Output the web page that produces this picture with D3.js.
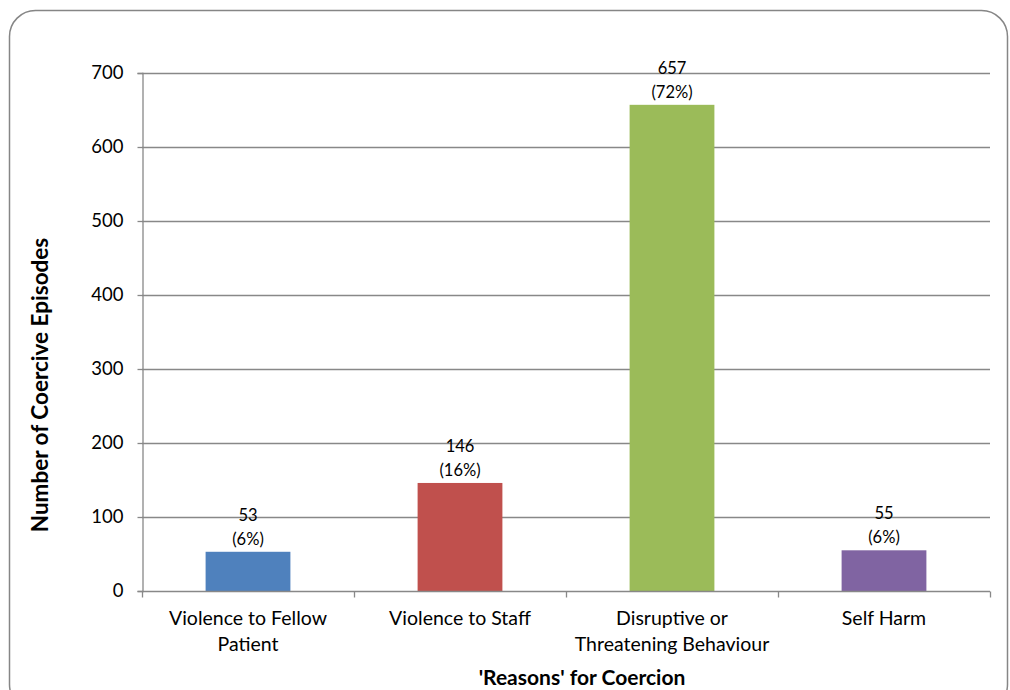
<!DOCTYPE html>
<html>
<head>
<meta charset="utf-8">
<script src="https://cdn.jsdelivr.net/npm/d3@7"></script>
<style>
  html, body { margin: 0; padding: 0; background: #fff; }
  svg { display: block; }
  text { font-family: Lato, "Open Sans", sans-serif; fill: #000; }
</style>
</head>
<body>
<svg id="chart" width="1010" height="690"></svg>
<script>
const categories = [
  ["Violence to Fellow", "Patient"],
  ["Violence to Staff"],
  ["Disruptive or", "Threatening Behaviour"],
  ["Self Harm"]
];
const values = [53, 146, 657, 55];
const percents = ["(6%)", "(16%)", "(72%)", "(6%)"];
const colors = ["#4F81BD", "#C0504D", "#9BBB59", "#8064A2"];
const yTicks = [0, 100, 200, 300, 400, 500, 600, 700];
const yTitle = "Number of Coercive Episodes";
const xTitle = "'Reasons' for Coercion";

const svg = d3.select("#chart");

// outer rounded frame
svg.append("rect")
  .attr("x", 9.5).attr("y", 10.5)
  .attr("width", 998).attr("height", 700)
  .attr("rx", 26).attr("ry", 26)
  .attr("fill", "#fff")
  .attr("stroke", "#868686").attr("stroke-width", 1.5);

const pLeft = 142, pRight = 990, pTop = 73, pBottom = 591;

const x = d3.scaleBand()
  .domain(d3.range(categories.length))
  .range([pLeft, pRight])
  .paddingInner(0.6).paddingOuter(0.3);

const xOuter = d3.scaleBand()
  .domain(d3.range(categories.length))
  .range([pLeft, pRight]);

const y = d3.scaleLinear().domain([0, 700]).range([pBottom, pTop]);

// gridlines
svg.append("g").selectAll("line")
  .data(yTicks.filter(t => t > 0))
  .join("line")
  .attr("x1", pLeft).attr("x2", pRight)
  .attr("y1", d => y(d) + 0.5).attr("y2", d => y(d) + 0.5)
  .attr("stroke", "#888").attr("stroke-width", 1.3);

// y axis
const yAxis = svg.append("g")
  .attr("transform", `translate(${pLeft + 0.5},0)`)
  .call(d3.axisLeft(y).tickValues(yTicks).tickSize(5).tickPadding(14).tickFormat(d3.format("d")));
yAxis.select(".domain").attr("stroke", "#888").attr("stroke-width", 1.3);
yAxis.selectAll(".tick line").attr("stroke", "#888").attr("stroke-width", 1.3);
yAxis.selectAll(".tick text").attr("font-size", 18.5).attr("font-family", "Lato").attr("fill", "#000");

// bars
svg.append("g").selectAll("rect")
  .data(values)
  .join("rect")
  .attr("x", (d, i) => x(i))
  .attr("width", x.bandwidth())
  .attr("y", d => y(d))
  .attr("height", d => y(0) - y(d))
  .attr("fill", (d, i) => colors[i]);

// x axis
const xAxisG = svg.append("g").attr("transform", `translate(0,${pBottom + 0.5})`);
xAxisG.append("line")
  .attr("x1", pLeft).attr("x2", pRight)
  .attr("stroke", "#888").attr("stroke-width", 1.3);
const xTickPos = d3.range(categories.length + 1).map(i => i < categories.length ? xOuter(i) : xOuter(i - 1) + xOuter.bandwidth());
xAxisG.selectAll("line.tk")
  .data(xTickPos)
  .join("line").attr("class", "tk")
  .attr("x1", d => d + 0.5).attr("x2", d => d + 0.5)
  .attr("y1", 0).attr("y2", 6)
  .attr("stroke", "#888").attr("stroke-width", 1.3);

// category labels
const catG = svg.append("g");
categories.forEach((lines, i) => {
  const cx = xOuter(i) + xOuter.bandwidth() / 2;
  const t = catG.append("text")
    .attr("text-anchor", "middle")
    .attr("font-size", 19.5);
  lines.forEach((ln, j) => {
    t.append("tspan").attr("x", cx).attr("y", 625 + j * 26).text(ln);
  });
});

// value labels
const lblG = svg.append("g");
values.forEach((v, i) => {
  const cx = x(i) + x.bandwidth() / 2;
  lblG.append("text").attr("x", cx).attr("y", y(v) - 31)
    .attr("text-anchor", "middle").attr("font-size", 16.5).text(v);
  lblG.append("text").attr("x", cx).attr("y", y(v) - 7)
    .attr("text-anchor", "middle").attr("font-size", 16.5).text(percents[i]);
});

// axis titles
svg.append("text")
  .attr("transform", `translate(48,385) rotate(-90)`)
  .attr("text-anchor", "middle")
  .attr("font-size", 22.5).attr("font-weight", "bold")
  .text(yTitle);

svg.append("text")
  .attr("x", 582).attr("y", 685)
  .attr("text-anchor", "middle")
  .attr("font-size", 21).attr("font-weight", "bold")
  .text(xTitle);
</script>
</body>
</html>
